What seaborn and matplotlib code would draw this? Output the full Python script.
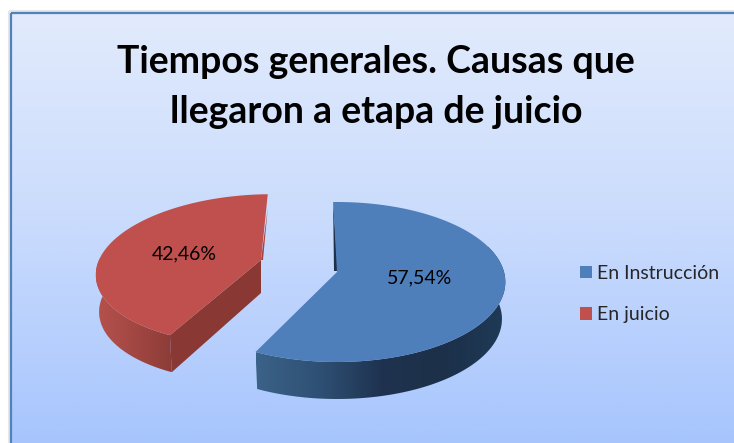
"""Tiempos generales: tarta 3D separada, dibujada sobre el lienzo en pixeles."""

import numpy as np
import matplotlib.pyplot as plt
import seaborn as sns
from matplotlib.colors import LinearSegmentedColormap
from matplotlib.patches import Patch, Polygon, Rectangle

categorias = ["En Instrucción", "En juicio"]
valores = [57.54, 42.46]
titulo = "Tiempos generales. Causas que\nllegaron a etapa de juicio"

sns.set_theme(style="white")
plt.rcParams["font.family"] = ["Lato", "DejaVu Sans"]
colores = sns.color_palette(["#4f7fba", "#c0504d"])

ARRANQUE = -1.5
A, B, K = 167, 78.75, 0.125
PROF = 37

fig = plt.figure(figsize=(7.34, 4.43), dpi=100)
ax = fig.add_axes([0, 0, 1, 1])
ax.axis("off")


def borde(theta, cx, cy, shear=0.0, ex=1.0, ey=1.0):
    """Punto del aro de la tarta con perspectiva, theta en grados desde arriba."""
    t = np.radians(theta)
    den = 1 + K * np.cos(t)
    dy = -B * ey * np.cos(t) / den
    return np.column_stack([cx + ex * A * np.sin(t) / den + shear * dy, cy + dy])


def aro_bajo(puntos, cx):
    """Copia el aro hacia abajo, algo más estrecho por la perspectiva."""
    bajo = puntos + [0, PROF]
    bajo[:, 0] = cx + (bajo[:, 0] - cx) * 0.98
    return bajo


def con_gradiente(puntos, paradas, zorder):
    """Polígono relleno con un gradiente horizontal."""
    x0, x1 = puntos[:, 0].min(), puntos[:, 0].max()
    y0, y1 = puntos[:, 1].min(), puntos[:, 1].max()
    cmap = LinearSegmentedColormap.from_list("g", paradas)
    im = ax.imshow(np.linspace(0, 1, 256)[None, :], cmap=cmap, aspect="auto",
                   extent=(x0, x1, y1, y0), zorder=zorder)
    pol = Polygon(puntos, closed=True, transform=ax.transData)
    im.set_clip_path(pol)


# fondo con degradado y marco
fondo = LinearSegmentedColormap.from_list("fondo", ["#e2ebfc", "#c9dbfd", "#a7c5fd"])
ax.imshow(np.linspace(0, 1, 256)[:, None], cmap=fondo, aspect="auto",
          extent=(10, 740, 443, 12), zorder=0)
ax.add_patch(Rectangle((9, 11), 740, 450, fill=False, ec="#e6e6e6", lw=1.5, zorder=1))
ax.add_patch(Rectangle((10.5, 12.5), 740, 450, fill=False, ec="#4f81bd", lw=1.6, zorder=1))

fin_azul = ARRANQUE + valores[0] * 3.6
fin_rojo = fin_azul + valores[1] * 3.6

# porción roja
cx, cy = 261, 260
th = np.linspace(fin_azul, fin_rojo, 120)
aro = borde(th, cx, cy, -0.16, 0.97, 0.94)
apice = np.array([[cx, cy]])
frente = np.arange(len(th))[th < 272]
baja = aro_bajo(aro[frente], cx)
con_gradiente(np.vstack([aro[frente], baja[::-1]]), ["#b5524d", "#a34743", "#8c3c37"], 2)
esquina = aro[:1]
ax.add_patch(Polygon(np.vstack([esquina, apice, apice + [0, PROF - 4], baja[:1]]),
                     fc="#893833", ec="none", zorder=3))
ax.add_patch(Polygon(np.vstack([aro[-1:] + [0, 14], apice, apice + [2, 0]]),
                     fc="#a8423f", ec="none", zorder=3))
ax.add_patch(Polygon(np.vstack([apice, aro]), fc=colores[1], ec="none", zorder=4))

# porción azul
cx, cy = 337, 272
th = np.linspace(ARRANQUE, fin_azul, 160)
aro = borde(th, cx, cy)
apice = np.array([[cx, cy]])
frente = np.arange(len(th))[th > 70]
baja = aro_bajo(aro[frente], cx)
con_gradiente(np.vstack([aro[frente], baja[::-1]]),
              ["#3b6288", "#2f5075", "#1f3350", "#1c3049", "#1f3a57"], 2)
ax.add_patch(Polygon(np.vstack([aro[:1], apice + [1, -1], apice + [-3, -1]]),
                     fc="#1c3049", ec="none", zorder=3))
ax.add_patch(Polygon(np.vstack([apice, aro]), fc=colores[0], ec="none", zorder=4))

etiqueta = [f"{v:.2f}%".replace(".", ",") for v in valores]
ax.text(420, 278, etiqueta[0], ha="center", va="center", fontsize=14, color="black", zorder=5)
ax.text(184, 254, etiqueta[1], ha="center", va="center", fontsize=14, color="black", zorder=5)

ax.text(376, 87, titulo, ha="center", va="center", fontsize=27, fontweight="bold",
        color="black", linespacing=1.56, zorder=5)

manejadores = [Patch(fc=c, ec="none") for c in colores]
ax.legend(manejadores, categorias, loc="upper left", bbox_to_anchor=(580 / 734, 1 - 265 / 443),
          frameon=False, fontsize=14, handlelength=0.62, handleheight=0.62,
          handletextpad=0.26, labelspacing=1.25, borderpad=0, borderaxespad=0)

ax.set_xlim(0, 734)
ax.set_ylim(443, 0)
fig.savefig("out.png", dpi=100, facecolor="white")
